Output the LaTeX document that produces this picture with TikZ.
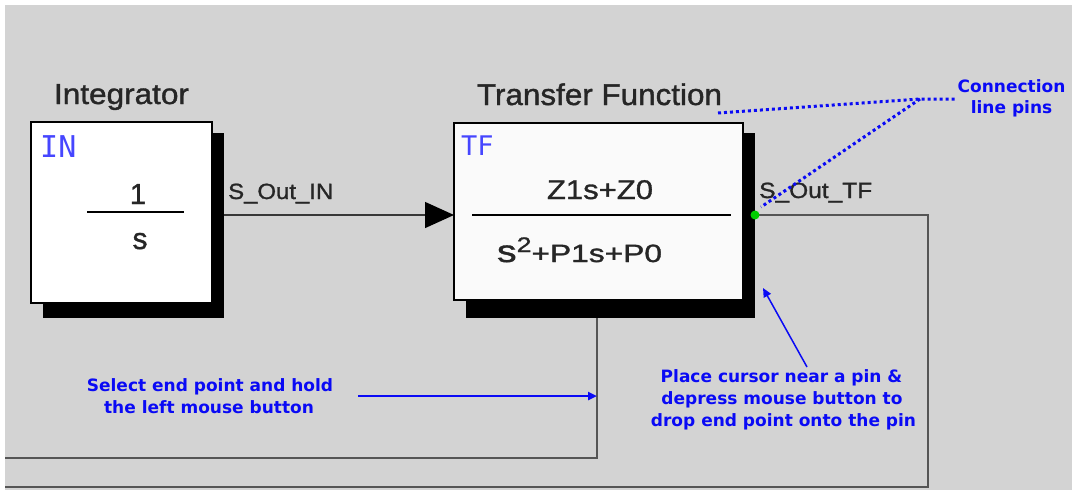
\documentclass[tikz,border=0pt]{standalone}
\usepackage{fontspec}
\usepackage{graphicx}
\usetikzlibrary{arrows.meta}
\setmainfont{Liberation Sans}[FakeBold=1.2]
\newfontfamily\monofont{DejaVu Sans Mono}
\newfontfamily\annofont{DejaVu Sans}
\newcommand{\fitw}[2]{\resizebox{#1}{\height}{#2}}
\newcommand{\fs}[1]{\fontsize{#1}{#1}\selectfont}
\definecolor{bggray}{RGB}{211,211,211}
\definecolor{annoblue}{RGB}{10,10,245}
\definecolor{tagblue}{RGB}{70,70,255}
\definecolor{linegray}{RGB}{55,55,55}
\definecolor{pingreen}{RGB}{0,205,0}
\definecolor{tffill}{RGB}{250,250,250}
\tikzset{
  lbl/.style={inner sep=0pt, anchor=base, text=black!85},
  tag/.style={inner sep=0pt, anchor=base west, text=tagblue, font=\monofont},
  anno/.style={inner sep=0pt, anchor=base, text=annoblue, font=\annofont\bfseries\fs{17}},
  blockbox/.style={draw=black, line width=2pt, inner sep=0pt},
  shadowbox/.style={fill=black, draw=none, inner sep=0pt},
  conn/.style={draw=linegray, line width=1.4pt},
  heavyconn/.style={draw=linegray!85!white, line width=2pt},
  dotline/.style={draw=annoblue, line width=3pt, dash pattern=on 3pt off 3pt},
  annoarrow/.style={draw=annoblue, -{Triangle[length=9pt,width=8pt]}},
  fracbar/.style={draw=black, line width=2pt}
}
\begin{document}
\begin{tikzpicture}[x=1pt,y=-1pt]
\useasboundingbox (0,0) rectangle (1075,490);
\fill[white] (0,0) rectangle (1075,490);
\fill[bggray] (5,5) rectangle (1072,490);

% Integrator block
\node[shadowbox, minimum width=181pt, minimum height=185pt] (intsh) at (133.5,225.5) {};
\node[blockbox, fill=white, minimum width=181pt, minimum height=181pt] (intbox) at (121.5,212.5) {};
\node[lbl] (inttitle) at (121.5,104) {\fs{29}\fitw{135pt}{Integrator}};
\node[tag] (intag) at (40,157) {\fs{30}IN};
\node[lbl] (intnum) at (138,204) {\fs{29}1};
\node[lbl] (intden) at (140,249) {\fs{30}s};
\draw[fracbar] (87,212) -- (184,212);

% Transfer function block
\node[shadowbox, minimum width=289pt, minimum height=185pt] (tfsh) at (610.5,225.5) {};
\node[blockbox, fill=tffill, minimum width=289pt, minimum height=177pt] (tfbox) at (598.5,211.5) {};
\node[lbl] (tftitle) at (599.5,105) {\fs{30}\fitw{245pt}{Transfer Function}};
\node[tag] (tftag) at (461,155) {\fs{27}TF};
\node[lbl] (tfnum) at (600,199) {\fs{27}\fitw{106pt}{Z1s+Z0}};
\node[lbl] (tfden) at (579.5,262) {\fitw{165pt}{{\fs{31}s}\raisebox{10pt}{\fs{21}2}{\fs{25}+P1s+P0}}};
\draw[fracbar] (472,215) -- (731,215);

% signal labels
\node[lbl, anchor=base west] (sin) at (228,199) {\fs{22}\fitw{105pt}{S\_Out\_IN}};
\node[lbl, anchor=base west] (sout) at (759,198) {\fs{22}\fitw{113pt}{S\_Out\_TF}};

% connectors
\coordinate (outIN) at (224,215);
\coordinate (inTF) at (454,215);
\draw[conn, -{Triangle[length=29pt,width=26pt,color=black,fill=black]}] (outIN) -- (inTF);

\coordinate (pinc) at (755,215);
\coordinate (c1) at (928,215);
\coordinate (c2) at (928,487);
\coordinate (c3) at (5,487);
\draw[heavyconn] (pinc) -- (c1) -- (c2) -- (c3);

\coordinate (d0) at (597,318);
\coordinate (d1) at (597,458);
\coordinate (d2) at (5,458);
\draw[heavyconn] (d0) -- (d1) -- (d2);

% annotations
\node[anno] (cp1) at (1011.5,92) {Connection};
\node[anno] (cp2) at (1011.5,113) {line pins};
\coordinate (dA) at (718,113);
\coordinate (dB) at (920,99);
\coordinate (dC) at (955,99);
\coordinate (dD) at (761,207);
\draw[dotline] (dA) -- (dB) -- (dC);
\draw[dotline] (dB) -- (dD);

\node[circle, fill=pingreen, draw=none, inner sep=0pt, minimum size=9pt] (pin) at (pinc) {};

\node[anno] (se1) at (210,391) {Select end point and hold};
\node[anno] (se2) at (209,413) {the left mouse button};
\coordinate (sa) at (358,396);
\coordinate (sb) at (597,396);
\draw[annoarrow, line width=2.5pt] (sa) -- (sb);

\node[anno] (pl1) at (781.5,382) {Place cursor near a pin \&};
\node[anno] (pl2) at (782,404) {depress mouse button to};
\node[anno] (pl3) at (783.5,426) {drop end point onto the pin};
\coordinate (pa) at (807,367);
\coordinate (pb) at (763,288);
\draw[annoarrow, line width=1.5pt] (pa) -- (pb);
\end{tikzpicture}
\end{document}
